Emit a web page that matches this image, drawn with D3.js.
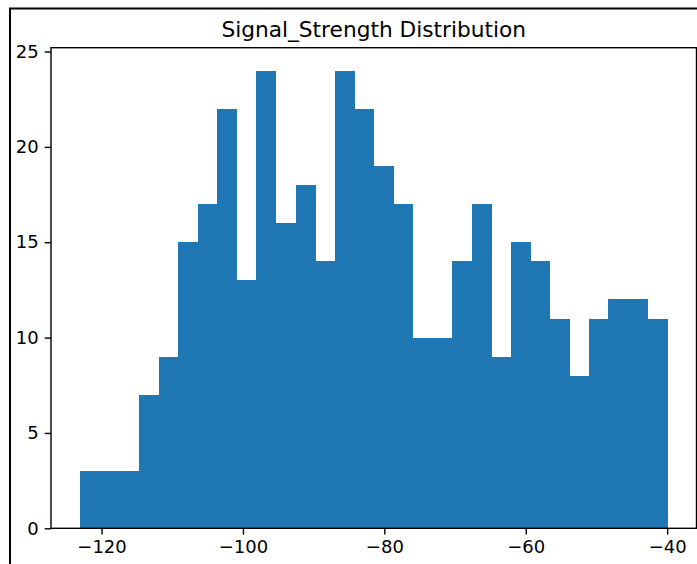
<!DOCTYPE html>
<html>
<head>
<meta charset="utf-8">
<script src="https://cdn.jsdelivr.net/npm/d3@7"></script>
<style>
  body { margin: 0; background: #fff; }
  svg { display: block; }
  text { font-family: "DejaVu Sans", sans-serif; fill: #000; }
</style>
</head>
<body>
<div id="chart"></div>
<script>
// histogram data (30 bins between the min and max signal strength)
const binStart = -123;
const binEnd = -40;
const counts = [3, 3, 3, 7, 9, 15, 17, 22, 13, 24,
                16, 18, 14, 24, 22, 19, 17, 10, 10, 14,
                17, 9, 15, 14, 11, 8, 11, 12, 12, 11];
const xTicks = [-120, -100, -80, -60, -40];
const yTicks = [0, 5, 10, 15, 20, 25];
const title = "Signal_Strength Distribution";

const W = 697, H = 564;
const margin = { top: 47.7, right: 0.5, bottom: 35.7, left: 51 };

const svg = d3.select("#chart").append("svg")
    .attr("width", W)
    .attr("height", H);

// screenshot frame
svg.append("rect")
    .attr("x", 10).attr("y", 8.5)
    .attr("width", W + 20).attr("height", H + 20)
    .attr("fill", "none")
    .attr("stroke", "#000")
    .attr("stroke-width", 2);

const bw = (binEnd - binStart) / counts.length;
const bins = counts.map((c, i) => ({ x0: binStart + i * bw, x1: binStart + (i + 1) * bw, n: c }));

const pad = (binEnd - binStart) * 0.05;
const x = d3.scaleLinear()
    .domain([binStart - pad, binEnd + pad])
    .range([margin.left, W - margin.right]);

const y = d3.scaleLinear()
    .domain([0, d3.max(counts) * 1.05])
    .range([H - margin.bottom, margin.top]);

svg.append("g")
    .attr("shape-rendering", "crispEdges")
  .selectAll("rect")
  .data(bins)
  .join("rect")
    .attr("x", d => x(d.x0))
    .attr("y", d => y(d.n))
    .attr("width", d => x(d.x1) - x(d.x0) + 0.5)
    .attr("height", d => y(0) - y(d.n))
    .attr("fill", "#1f77b4");

// spines
svg.append("rect")
    .attr("x", x.range()[0]).attr("y", y.range()[1])
    .attr("width", x.range()[1] - x.range()[0])
    .attr("height", y.range()[0] - y.range()[1])
    .attr("fill", "none")
    .attr("stroke", "#000")
    .attr("stroke-width", 1.4);

const gx = svg.append("g")
    .attr("transform", `translate(0,${y(0)})`)
    .call(d3.axisBottom(x).tickValues(xTicks).tickSize(6.3).tickPadding(5.5));
const gy = svg.append("g")
    .attr("transform", `translate(${x.range()[0]},0)`)
    .call(d3.axisLeft(y).tickValues(yTicks).tickSize(6.3).tickPadding(6));

[gx, gy].forEach(g => {
  g.select(".domain").remove();
  g.selectAll(".tick line").attr("stroke", "#000").attr("stroke-width", 1.4);
  g.selectAll(".tick text").attr("font-size", 18).attr("font-family", "DejaVu Sans").attr("fill", "#000");
});

svg.append("text")
    .attr("x", (x.range()[0] + x.range()[1]) / 2)
    .attr("y", y.range()[1] - 10.8)
    .attr("text-anchor", "middle")
    .attr("font-size", 21.7)
    .text(title);
</script>
</body>
</html>
